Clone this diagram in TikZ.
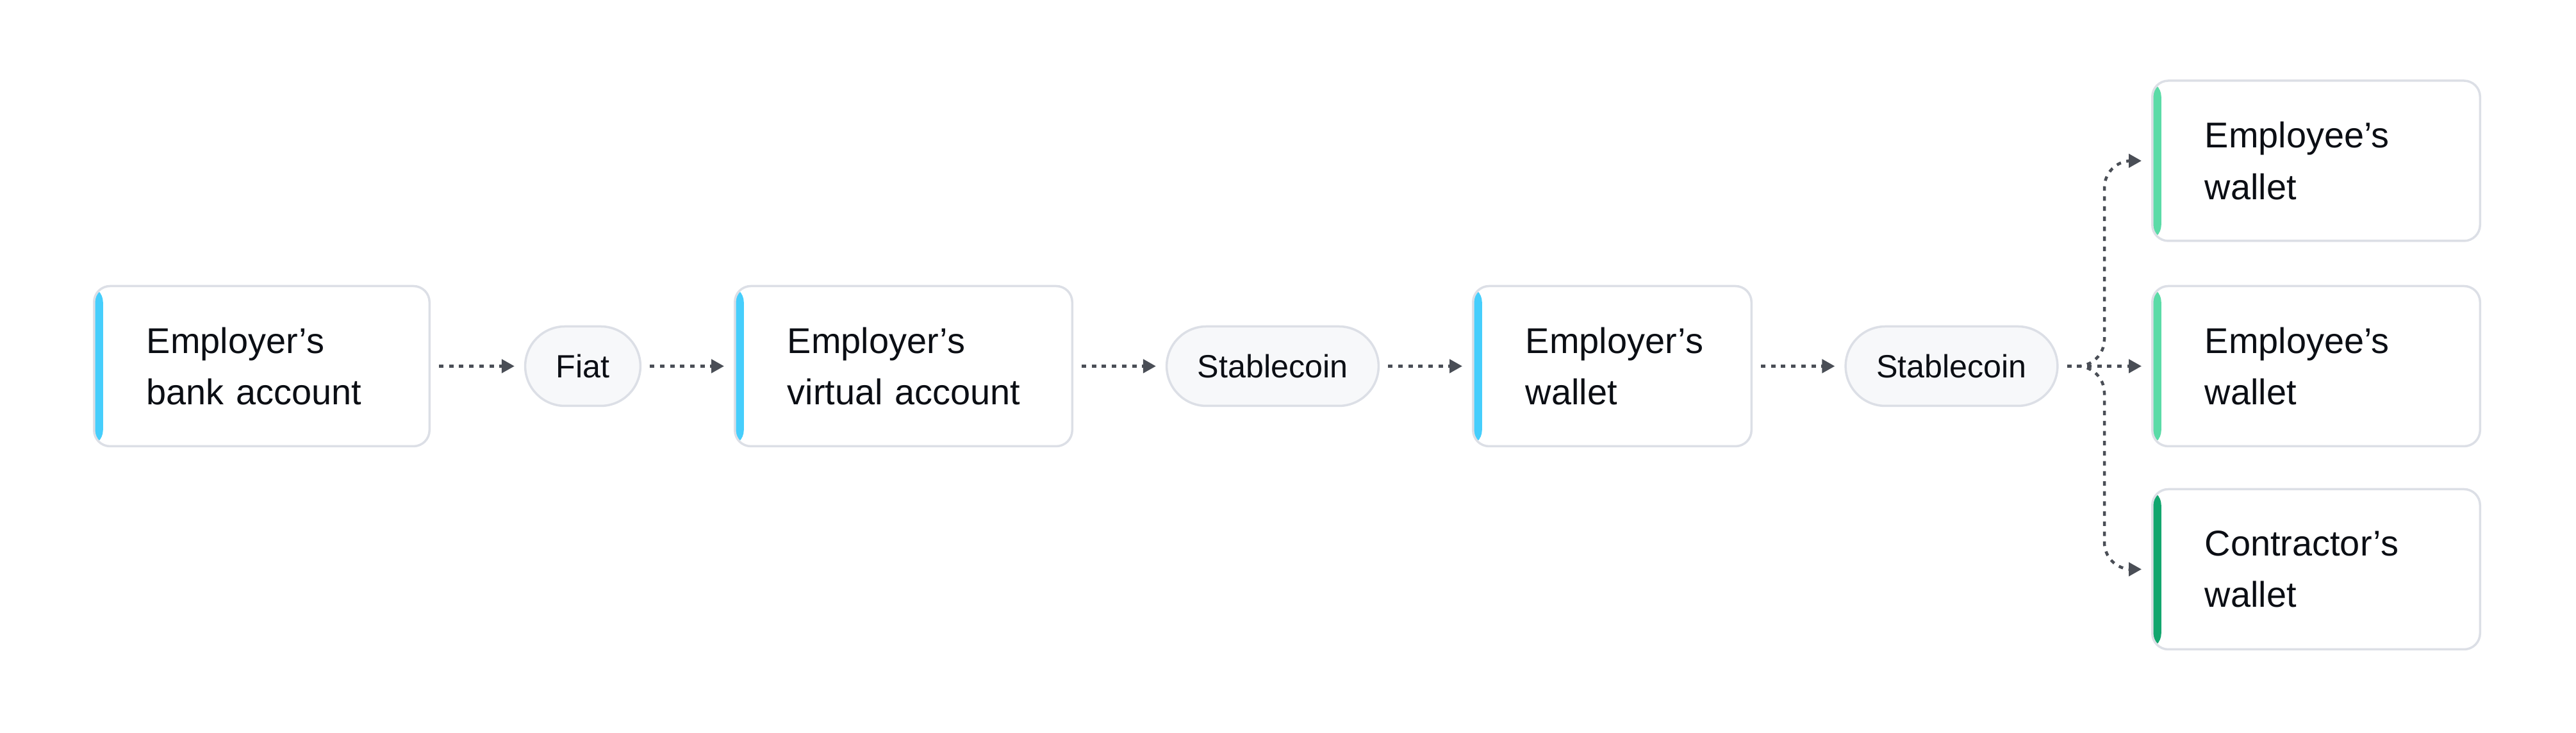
\documentclass[tikz,border=0pt]{standalone}
\usepackage{fontspec}
\setmainfont{Liberation Sans}
\usepackage{xcolor}
\usepackage{tikz}
\usetikzlibrary{arrows.meta,positioning}
\definecolor{tinta}{HTML}{0B0E14}
\definecolor{borde}{HTML}{DCDFE6}
\definecolor{fondo}{HTML}{F7F8FA}
\definecolor{gris}{HTML}{4A4E56}
\definecolor{cian}{HTML}{46CEFC}
\definecolor{verde}{HTML}{5BDBA7}
\definecolor{verdeosc}{HTML}{12A66E}

\begin{document}
\begin{tikzpicture}[
  text=tinta,
  cuenta/.style={draw=borde,line width=0.035cm,fill=white,rounded corners=0.25cm,minimum height=2.5cm,inner xsep=0.82cm,text width=#1,align=left,font=\fontsize{15.9}{22.8}\selectfont},
  franja/.style={path picture={\fill[#1] (path picture bounding box.south west) rectangle ([xshift=0.14cm]path picture bounding box.north west);}},
  pastilla/.style={draw=borde,line width=0.035cm,fill=fondo,rounded corners=0.62cm,minimum height=1.24cm,inner xsep=0.48cm,font=\fontsize{14.3}{17}\selectfont},
  flecha/.style={-{Triangle[length=0.2cm,width=0.21cm]},line width=0.045cm,gris,dash pattern=on 0.07cm off 0.087cm,shorten <=0.13cm,shorten >=0.15cm}]
\useasboundingbox (0,0) rectangle (40.2,11.44);
\node[cuenta=3.595cm,franja=cian] (banco) at (4.085,5.725) {Employer’s\\\mbox{bank account}};
\node[pastilla] (fiat) at (9.095,5.725) {Fiat};
\node[cuenta=3.625cm,franja=cian] (virtual) at (14.10,5.725) {Employer’s\\\mbox{virtual account}};
\node[pastilla] (moneda1) at (19.86,5.725) {Stablecoin};
\node[cuenta=2.705cm,franja=cian] (billetera) at (25.16,5.725) {Employer’s\\wallet};
\node[pastilla] (moneda2) at (30.455,5.725) {Stablecoin};
\node[cuenta=3.475cm,franja=verde] (empleado1) at (36.145,8.93) {Employee’s\\wallet};
\node[cuenta=3.475cm,franja=verde] (empleado2) at (36.145,5.725) {Employee’s\\wallet};
\node[cuenta=3.475cm,franja=verdeosc] (contratista) at (36.145,2.555) {Contractor’s\\wallet};
\draw[flecha] (banco) -- (fiat);
\draw[flecha] (fiat) -- (virtual);
\draw[flecha] (virtual) -- (moneda1);
\draw[flecha] (moneda1) -- (billetera);
\draw[flecha] (billetera) -- (moneda2);
\draw[flecha] (moneda2) -- (empleado2);
\coordinate (reparto) at ([xshift=0.3cm]moneda2.east);
\draw[flecha,shorten <=0pt,rounded corners=0.42cm] (reparto) -| ([xshift=-0.73cm]empleado1.west) -- (empleado1.west);
\draw[flecha,shorten <=0pt,rounded corners=0.42cm] (reparto) -| ([xshift=-0.73cm]contratista.west) -- (contratista.west);
\end{tikzpicture}
\end{document}
